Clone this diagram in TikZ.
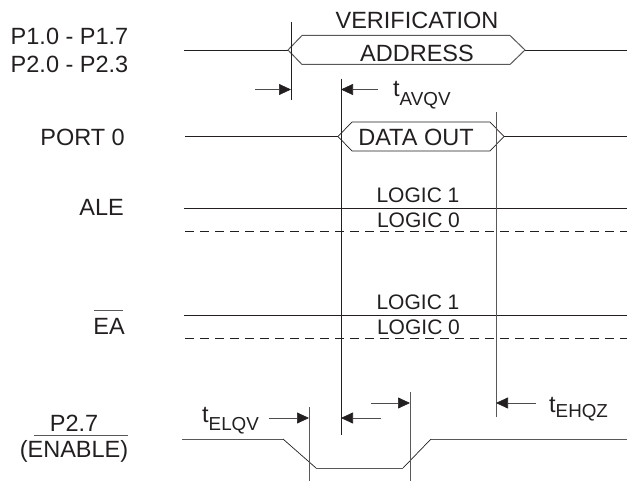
\documentclass[tikz,border=0pt]{standalone}
\usepackage{xcolor}
\usepackage{fontspec}
\setmainfont{Liberation Sans}
\usetikzlibrary{arrows.meta}
\definecolor{ink}{RGB}{35,31,32}
\newcommand{\tname}[2]{t\raisebox{-#1pt}{\fontsize{18.8}{20}\selectfont #2}}
\tikzset{
  lbl/.style={text=ink,font=\fontsize{23.5}{26}\selectfont,inner sep=0pt},
  small/.style={text=ink,font=\fontsize{21}{24}\selectfont,inner sep=0pt},
  sig/.style={draw=ink,line width=0.7pt},
  edge/.style={draw=ink,line width=0.7pt},
  greyedge/.style={draw=ink!75,line width=1pt},
  tip/.style={draw=ink!80,line width=0.7pt,-{Triangle[length=12pt,width=11pt,color=ink]}}
}
\begin{document}
\begin{tikzpicture}[x=1pt,y=-1pt]
\useasboundingbox (0,0) rectangle (627,481);
% signal names
\node[lbl,anchor=east] (p1) at (128.5,36) {P1.0 - P1.7};
\node[lbl,anchor=east] (p2) at (128.5,64) {P2.0 - P2.3};
\node[lbl,anchor=east] (port) at (125,137.5) {PORT 0};
\node[lbl,anchor=east] (ale) at (124,207.5) {ALE};
\node[lbl,anchor=east] (ea) at (125,326) {EA};
\node[lbl] (p27) at (74,423) {P2.7};
\node[lbl] (enable) at (74,451) {(ENABLE)};
\coordinate (barl) at (34,435);
\coordinate (barr) at (128,435);
\coordinate (eal) at (94,311);
\coordinate (ear) at (123,311);
\draw[greyedge] (barl) -- (barr);
\draw[greyedge] (eal) -- (ear);
% address bus
\coordinate (a0) at (184,50);
\coordinate (a1) at (288,50);
\coordinate (a2) at (302,35.5);
\coordinate (a3) at (510,35.5);
\coordinate (a4) at (525,50);
\coordinate (a5) at (627,50);
\coordinate (a6) at (510,64.5);
\coordinate (a7) at (302,64.5);
\draw[sig] (a0) -- (a1);
\draw[sig] (a4) -- (a5);
\draw[greyedge] (a1) -- (a2) -- (a3) -- (a4) -- (a6) -- (a7) -- cycle;
\node[lbl] (verif) at (417,20) {VERIFICATION};
\node[lbl] (addr) at (417,53) {ADDRESS};
% data bus
\coordinate (d0) at (185,136.5);
\coordinate (d1) at (338,136.5);
\coordinate (d2) at (352,122);
\coordinate (d3) at (490,122);
\coordinate (d4) at (504,136.5);
\coordinate (d5) at (627,136.5);
\coordinate (d6) at (490,151);
\coordinate (d7) at (352,151);
\draw[sig] (d0) -- (d1) -- (d2) -- (d3) -- (d4) -- (d5);
\draw[sig] (d1) -- (d7) -- (d6) -- (d4);
\node[lbl] (data) at (416,137) {DATA OUT};
% logic levels
\foreach \name/\yhi/\ylo in {ale/208.5/231, ea/315.5/338}{
  \coordinate (\name hl) at (184,\yhi);
  \coordinate (\name hr) at (627,\yhi);
  \coordinate (\name ll) at (185,\ylo);
  \coordinate (\name lr) at (627,\ylo);
  \draw[sig] (\name hl) -- (\name hr);
  \draw[sig,dash pattern=on 9pt off 6pt] (\name ll) -- (\name lr);
  \node[small] (\name one) at (418,\yhi-13.5) {LOGIC 1};
  \node[small] (\name zero) at (418.5,\yhi+11.5) {LOGIC 0};
}
% enable strobe
\coordinate (e0) at (182,439);
\coordinate (e1) at (283,439);
\coordinate (e2) at (316,468);
\coordinate (e3) at (403,468);
\coordinate (e4) at (431,439);
\coordinate (e5) at (627,439);
\draw[greyedge] (e0) -- (e1);
\draw[sig] (e1) -- (e2);
\draw[greyedge] (e2) -- (e3);
\draw[sig] (e3) -- (e4);
\draw[greyedge] (e4) -- (e5);
% timing marks
\coordinate (v1t) at (291,22);
\coordinate (v1b) at (291,100);
\coordinate (v2t) at (341,79);
\coordinate (v2b) at (341,435);
\coordinate (v3t) at (496,112);
\coordinate (v3b) at (496,417);
\coordinate (v4t) at (309,407);
\coordinate (v4b) at (309,481);
\coordinate (v5t) at (410,392);
\coordinate (v5b) at (410,481);
\draw[edge] (v1t) -- (v1b);
\draw[edge] (v2t) -- (v2b);
\draw[greyedge] (v3t) -- (v3b);
\draw[greyedge] (v4t) -- (v4b);
\draw[greyedge] (v5t) -- (v5b);
% arrows
\coordinate (s1) at (255,89.5);
\coordinate (h1) at (291,89.5);
\coordinate (s2) at (378,89.5);
\coordinate (h2) at (341,89.5);
\coordinate (s3) at (269,418);
\coordinate (h3) at (309,418);
\coordinate (s4) at (381,418);
\coordinate (h4) at (341,418);
\coordinate (s5) at (371,403);
\coordinate (h5) at (410,403);
\coordinate (s6) at (536,403);
\coordinate (h6) at (496,403);
\foreach \s/\h in {s1/h1,s2/h2,s3/h3,s4/h4,s5/h5,s6/h6}
  \draw[tip] (\s) -- (\h);
% timing names
\node[lbl,anchor=base west] (tavqv) at (393,97) {\tname{8.5}{AVQV}};
\node[lbl,anchor=base west] (telqv) at (202,422) {\tname{8.5}{ELQV}};
\node[lbl,anchor=base west] (tehqz) at (549,412) {\tname{5}{EHQZ}};
\end{tikzpicture}
\end{document}
